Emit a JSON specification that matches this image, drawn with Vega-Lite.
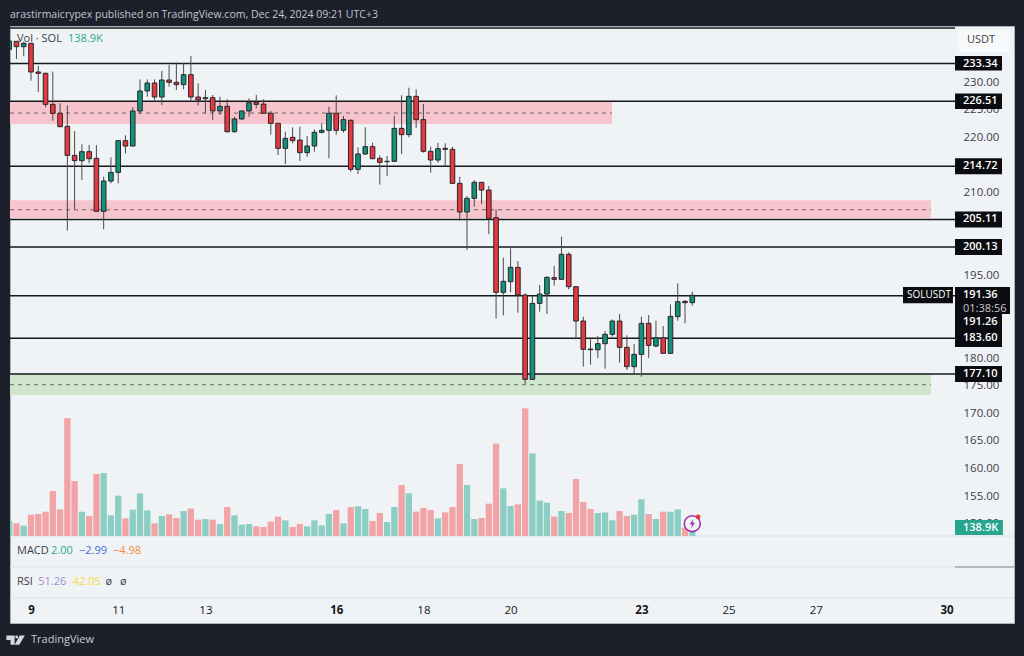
{"$schema":"https://vega.github.io/schema/vega-lite/v6.json","width":1004,"height":597,"autosize":{"type":"none"},"padding":{"left":10,"top":26,"right":10,"bottom":33},"background":"#1c202b","view":{"fill":"#f0f3f5","stroke":"#aeb2b8"},
"config":{"font":"Open Sans"},
"title":{"text":"arastirmaicrypex published on TradingView.com, Dec 24, 2024 09:21 UTC+3","anchor":"start","frame":"group","offset":6,"color":"#c3c6cd","fontSize":10.5,"fontWeight":"normal"},
"datasets":{
"candles":[
{"t":"2024-12-08T12:00:00Z","o":235.92,"h":237.5,"l":235.8,"c":237.43,"v":231},
{"t":"2024-12-08T16:00:00Z","o":237.37,"h":237.4,"l":234.17,"c":236.4,"v":195},
{"t":"2024-12-08T20:00:00Z","o":236.4,"h":237.3,"l":234.7,"c":237.0,"v":159},
{"t":"2024-12-09T00:00:00Z","o":237.0,"h":237.0,"l":230.24,"c":231.81,"v":328},
{"t":"2024-12-09T04:00:00Z","o":231.81,"h":232.9,"l":228.19,"c":231.57,"v":339},
{"t":"2024-12-09T08:00:00Z","o":231.57,"h":231.69,"l":225.41,"c":225.95,"v":374},
{"t":"2024-12-09T12:00:00Z","o":225.95,"h":231.87,"l":222.99,"c":224.32,"v":693},
{"t":"2024-12-09T16:00:00Z","o":224.32,"h":226.13,"l":221.79,"c":221.91,"v":410},
{"t":"2024-12-09T20:00:00Z","o":221.97,"h":225.77,"l":203.07,"c":216.71,"v":1816},
{"t":"2024-12-10T00:00:00Z","o":216.71,"h":221.12,"l":206.93,"c":215.75,"v":846},
{"t":"2024-12-10T04:00:00Z","o":215.75,"h":218.71,"l":212.24,"c":217.38,"v":374},
{"t":"2024-12-10T08:00:00Z","o":217.38,"h":218.58,"l":215.26,"c":216.11,"v":308},
{"t":"2024-12-10T12:00:00Z","o":216.17,"h":218.58,"l":206.45,"c":206.57,"v":954},
{"t":"2024-12-10T16:00:00Z","o":206.57,"h":212.85,"l":203.31,"c":212.06,"v":970},
{"t":"2024-12-10T20:00:00Z","o":212.06,"h":216.35,"l":211.64,"c":213.63,"v":318},
{"t":"2024-12-11T00:00:00Z","o":213.63,"h":219.37,"l":211.64,"c":219.37,"v":621},
{"t":"2024-12-11T04:00:00Z","o":219.37,"h":220.34,"l":217.07,"c":218.4,"v":272},
{"t":"2024-12-11T08:00:00Z","o":218.4,"h":225.41,"l":218.4,"c":224.75,"v":405},
{"t":"2024-12-11T12:00:00Z","o":224.75,"h":230.48,"l":224.2,"c":228.37,"v":657},
{"t":"2024-12-11T16:00:00Z","o":228.37,"h":230.48,"l":227.34,"c":229.82,"v":395},
{"t":"2024-12-11T20:00:00Z","o":229.82,"h":230.48,"l":226.74,"c":227.28,"v":195},
{"t":"2024-12-12T00:00:00Z","o":227.28,"h":231.99,"l":225.83,"c":230.36,"v":308},
{"t":"2024-12-12T04:00:00Z","o":230.36,"h":233.08,"l":229.15,"c":229.94,"v":333},
{"t":"2024-12-12T08:00:00Z","o":229.94,"h":233.56,"l":228.55,"c":229.52,"v":277},
{"t":"2024-12-12T12:00:00Z","o":229.52,"h":233.38,"l":228.67,"c":231.33,"v":385},
{"t":"2024-12-12T16:00:00Z","o":231.33,"h":234.71,"l":226.62,"c":227.28,"v":421},
{"t":"2024-12-12T20:00:00Z","o":227.28,"h":229.76,"l":225.77,"c":226.74,"v":251},
{"t":"2024-12-13T00:00:00Z","o":226.98,"h":228.55,"l":224.32,"c":227.16,"v":262},
{"t":"2024-12-13T04:00:00Z","o":227.16,"h":227.64,"l":223.11,"c":224.75,"v":251},
{"t":"2024-12-13T08:00:00Z","o":224.75,"h":227.34,"l":224.02,"c":225.59,"v":185},
{"t":"2024-12-13T12:00:00Z","o":225.59,"h":226.86,"l":220.82,"c":221.0,"v":446},
{"t":"2024-12-13T16:00:00Z","o":221.0,"h":223.72,"l":220.82,"c":223.3,"v":318},
{"t":"2024-12-13T20:00:00Z","o":223.3,"h":224.8,"l":223.2,"c":224.75,"v":174},
{"t":"2024-12-14T00:00:00Z","o":224.75,"h":227.04,"l":223.72,"c":226.25,"v":185},
{"t":"2024-12-14T04:00:00Z","o":226.32,"h":227.65,"l":225.23,"c":225.95,"v":149},
{"t":"2024-12-14T08:00:00Z","o":226.0,"h":226.86,"l":224.33,"c":224.33,"v":139},
{"t":"2024-12-14T12:00:00Z","o":224.33,"h":224.75,"l":220.46,"c":222.51,"v":221},
{"t":"2024-12-14T16:00:00Z","o":222.51,"h":222.6,"l":216.77,"c":217.98,"v":298},
{"t":"2024-12-14T20:00:00Z","o":217.98,"h":221.0,"l":215.15,"c":219.79,"v":241},
{"t":"2024-12-15T00:00:00Z","o":219.97,"h":221.79,"l":218.89,"c":219.37,"v":139},
{"t":"2024-12-15T04:00:00Z","o":219.49,"h":221.91,"l":215.69,"c":217.2,"v":185},
{"t":"2024-12-15T08:00:00Z","o":217.2,"h":220.22,"l":216.47,"c":218.4,"v":149},
{"t":"2024-12-15T12:00:00Z","o":218.4,"h":221.43,"l":217.38,"c":220.88,"v":241},
{"t":"2024-12-15T16:00:00Z","o":220.88,"h":222.51,"l":220.7,"c":221.25,"v":164},
{"t":"2024-12-15T20:00:00Z","o":221.25,"h":225.53,"l":216.17,"c":224.33,"v":339},
{"t":"2024-12-16T00:00:00Z","o":224.33,"h":227.59,"l":220.46,"c":221.25,"v":400},
{"t":"2024-12-16T04:00:00Z","o":221.25,"h":223.84,"l":220.82,"c":223.18,"v":195},
{"t":"2024-12-16T08:00:00Z","o":223.06,"h":223.24,"l":213.75,"c":214.18,"v":446},
{"t":"2024-12-16T12:00:00Z","o":214.18,"h":218.17,"l":213.33,"c":216.96,"v":457},
{"t":"2024-12-16T16:00:00Z","o":216.96,"h":221.79,"l":216.77,"c":218.29,"v":416},
{"t":"2024-12-16T20:00:00Z","o":218.29,"h":219.0,"l":215.99,"c":216.11,"v":231},
{"t":"2024-12-17T00:00:00Z","o":216.17,"h":216.72,"l":211.4,"c":215.45,"v":354},
{"t":"2024-12-17T04:00:00Z","o":215.57,"h":216.6,"l":212.97,"c":215.63,"v":215},
{"t":"2024-12-17T08:00:00Z","o":215.63,"h":223.9,"l":215.5,"c":221.6,"v":446},
{"t":"2024-12-17T12:00:00Z","o":221.6,"h":227.59,"l":216.96,"c":220.46,"v":785},
{"t":"2024-12-17T16:00:00Z","o":220.46,"h":228.97,"l":219.97,"c":227.4,"v":657},
{"t":"2024-12-17T20:00:00Z","o":227.4,"h":228.67,"l":221.67,"c":223.18,"v":374},
{"t":"2024-12-18T00:00:00Z","o":223.18,"h":226.01,"l":217.2,"c":217.44,"v":431},
{"t":"2024-12-18T04:00:00Z","o":217.44,"h":218.29,"l":213.57,"c":215.87,"v":400},
{"t":"2024-12-18T08:00:00Z","o":215.87,"h":219.0,"l":215.39,"c":217.92,"v":272},
{"t":"2024-12-18T12:00:00Z","o":217.98,"h":218.89,"l":214.78,"c":217.8,"v":364},
{"t":"2024-12-18T16:00:00Z","o":217.8,"h":218.29,"l":211.64,"c":211.64,"v":446},
{"t":"2024-12-18T20:00:00Z","o":211.64,"h":212.85,"l":204.88,"c":206.45,"v":1108},
{"t":"2024-12-19T00:00:00Z","o":206.45,"h":209.35,"l":199.56,"c":208.92,"v":785},
{"t":"2024-12-19T04:00:00Z","o":208.92,"h":212.25,"l":207.41,"c":211.82,"v":262},
{"t":"2024-12-19T08:00:00Z","o":211.82,"h":211.9,"l":207.9,"c":210.43,"v":277},
{"t":"2024-12-19T12:00:00Z","o":210.43,"h":211.16,"l":202.46,"c":205.3,"v":498},
{"t":"2024-12-19T16:00:00Z","o":205.42,"h":206.93,"l":187.18,"c":191.9,"v":1421},
{"t":"2024-12-19T20:00:00Z","o":191.9,"h":198.18,"l":187.73,"c":193.89,"v":734},
{"t":"2024-12-20T00:00:00Z","o":193.83,"h":199.87,"l":191.9,"c":196.42,"v":462},
{"t":"2024-12-20T04:00:00Z","o":196.42,"h":197.57,"l":188.21,"c":191.41,"v":487},
{"t":"2024-12-20T08:00:00Z","o":191.41,"h":191.71,"l":175.29,"c":176.13,"v":1965},
{"t":"2024-12-20T12:00:00Z","o":176.13,"h":191.23,"l":176.01,"c":189.9,"v":1272},
{"t":"2024-12-20T16:00:00Z","o":189.9,"h":193.22,"l":188.39,"c":191.59,"v":544},
{"t":"2024-12-20T20:00:00Z","o":191.59,"h":194.85,"l":187.97,"c":194.61,"v":513},
{"t":"2024-12-21T00:00:00Z","o":194.55,"h":196.67,"l":193.1,"c":194.25,"v":298},
{"t":"2024-12-21T04:00:00Z","o":194.25,"h":201.98,"l":194.25,"c":198.78,"v":385},
{"t":"2024-12-21T08:00:00Z","o":198.78,"h":199.14,"l":192.44,"c":192.92,"v":354},
{"t":"2024-12-21T12:00:00Z","o":192.92,"h":192.92,"l":183.38,"c":186.7,"v":877},
{"t":"2024-12-21T16:00:00Z","o":186.7,"h":187.49,"l":178.43,"c":181.57,"v":523},
{"t":"2024-12-21T20:00:00Z","o":181.63,"h":183.38,"l":178.79,"c":181.5,"v":416},
{"t":"2024-12-22T00:00:00Z","o":181.5,"h":183.98,"l":180.0,"c":182.6,"v":354},
{"t":"2024-12-22T04:00:00Z","o":182.6,"h":184.89,"l":178.07,"c":184.29,"v":364},
{"t":"2024-12-22T08:00:00Z","o":184.29,"h":187.0,"l":183.87,"c":186.7,"v":241},
{"t":"2024-12-22T12:00:00Z","o":186.7,"h":187.97,"l":179.15,"c":181.93,"v":385},
{"t":"2024-12-22T16:00:00Z","o":181.93,"h":184.1,"l":177.82,"c":178.43,"v":308},
{"t":"2024-12-22T20:00:00Z","o":178.43,"h":182.53,"l":176.98,"c":180.66,"v":328},
{"t":"2024-12-23T00:00:00Z","o":180.66,"h":187.49,"l":176.62,"c":186.28,"v":564},
{"t":"2024-12-23T04:00:00Z","o":186.28,"h":187.79,"l":180.0,"c":182.29,"v":339},
{"t":"2024-12-23T08:00:00Z","o":182.17,"h":186.76,"l":181.93,"c":183.68,"v":262},
{"t":"2024-12-23T12:00:00Z","o":183.68,"h":185.8,"l":180.84,"c":180.84,"v":374},
{"t":"2024-12-23T16:00:00Z","o":180.84,"h":189.72,"l":180.84,"c":187.55,"v":374},
{"t":"2024-12-23T20:00:00Z","o":187.49,"h":193.53,"l":186.76,"c":190.2,"v":410},
{"t":"2024-12-24T00:00:00Z","o":190.26,"h":190.5,"l":186.28,"c":190.02,"v":128},
{"t":"2024-12-24T04:00:00Z","o":190.02,"h":192.02,"l":189.48,"c":191.36,"v":139}
],
"zones":[
{"t":"2024-12-08T12:26:00Z","t2":"2024-12-22T07:48:00Z","hi":226.43,"lo":222.4,"mid":224.38,"kind":"supply"},
{"t":"2024-12-08T12:26:00Z","t2":"2024-12-29T15:23:00Z","hi":208.6,"lo":205.36,"mid":206.85,"kind":"supply"},
{"t":"2024-12-08T12:26:00Z","t2":"2024-12-29T15:23:00Z","hi":177.1,"lo":173.3,"mid":175.16,"kind":"demand"}
],
"levels":[
{"t":"2024-12-08T12:26:00Z","t2":"2024-12-30T04:38:00Z","p":239.78},
{"t":"2024-12-08T12:26:00Z","t2":"2024-12-30T04:38:00Z","p":233.34},
{"t":"2024-12-08T12:26:00Z","t2":"2024-12-30T04:38:00Z","p":226.51},
{"t":"2024-12-08T12:26:00Z","t2":"2024-12-30T04:38:00Z","p":214.72},
{"t":"2024-12-08T12:26:00Z","t2":"2024-12-30T04:38:00Z","p":205.11},
{"t":"2024-12-08T12:26:00Z","t2":"2024-12-30T04:38:00Z","p":200.13},
{"t":"2024-12-08T12:26:00Z","t2":"2024-12-30T04:38:00Z","p":191.3},
{"t":"2024-12-08T12:26:00Z","t2":"2024-12-30T04:38:00Z","p":183.6},
{"t":"2024-12-08T12:26:00Z","t2":"2024-12-30T04:38:00Z","p":177.1}
],
"dividers":[
{"t":"2024-12-08T12:26:00Z","t2":"2024-12-31T13:06:00Z","p":147.75},
{"t":"2024-12-08T12:26:00Z","t2":"2024-12-31T13:06:00Z","p":142.14},
{"t":"2024-12-08T12:26:00Z","t2":"2024-12-31T13:06:00Z","p":136.52}
],
"scaleEdge":[{"t":"2024-12-30T04:38:00Z","t2":"2024-12-31T13:06:00Z","p":142.14}],
"tags":[
{"label":"233.34","t":"2024-12-30T04:38:00Z","t2":"2024-12-31T06:30:00Z","p":233.34,"hi":234.7,"lo":232.1},
{"label":"226.51","t":"2024-12-30T04:38:00Z","t2":"2024-12-31T06:30:00Z","p":226.51,"hi":227.9,"lo":225.1},
{"label":"214.72","t":"2024-12-30T04:38:00Z","t2":"2024-12-31T06:30:00Z","p":214.72,"hi":216.17,"lo":213.27},
{"label":"205.11","t":"2024-12-30T04:38:00Z","t2":"2024-12-31T06:30:00Z","p":205.11,"hi":206.56,"lo":203.66},
{"label":"200.13","t":"2024-12-30T04:38:00Z","t2":"2024-12-31T06:30:00Z","p":200.13,"hi":201.58,"lo":198.68},
{"label":"191.36","t":"2024-12-30T04:38:00Z","t2":"2024-12-31T10:54:00Z","p":191.36,"hi":192.86,"lo":187.97},
{"label":"191.26","t":"2024-12-30T04:38:00Z","t2":"2024-12-31T06:30:00Z","p":186.52,"hi":187.97,"lo":185.07},
{"label":"183.60","t":"2024-12-30T04:38:00Z","t2":"2024-12-31T06:30:00Z","p":183.6,"hi":185.07,"lo":182.0},
{"label":"177.10","t":"2024-12-30T04:38:00Z","t2":"2024-12-31T06:30:00Z","p":177.1,"hi":178.55,"lo":175.65}
],
"symbol":[{"label":"SOLUSDT","t":"2024-12-29T00:00:00Z","t2":"2024-12-30T03:30:00Z","p":191.36,"hi":192.86,"lo":189.9}],
"notes":[
{"label":"Vol · SOL","t":"2024-12-08T16:18:00Z","p":237.79,"series":"text"},
{"label":"138.9K","t":"2024-12-09T20:23:00Z","p":237.79,"series":"volume"},
{"label":"MACD","t":"2024-12-08T16:18:00Z","p":145.04,"series":"text"},
{"label":"2.00","t":"2024-12-09T11:00:00Z","p":145.04,"series":"volume"},
{"label":"−2.99","t":"2024-12-10T02:26:00Z","p":145.04,"series":"signal"},
{"label":"−4.98","t":"2024-12-10T21:08:00Z","p":145.04,"series":"hist"},
{"label":"RSI","t":"2024-12-08T16:18:00Z","p":139.42,"series":"text"},
{"label":"51.26","t":"2024-12-09T04:00:00Z","p":139.42,"series":"rsi"},
{"label":"42.05","t":"2024-12-09T23:00:00Z","p":139.42,"series":"rsima"},
{"label":"ø","t":"2024-12-10T17:00:00Z","p":139.42,"series":"text"},
{"label":"ø","t":"2024-12-11T01:00:00Z","p":139.42,"series":"text"},
{"label":"01:38:56","t":"2024-12-30T09:02:00Z","p":188.93,"series":"timer"},
{"label":"TradingView","t":"2024-12-09T00:00:00Z","p":128.9,"series":"brand"}
],
"unit":[{"label":"USDT","t":"2024-12-30T06:14:00Z","t2":"2024-12-31T10:54:00Z","hi":239.42,"lo":235.43,"p":237.6}],
"logo":[{"t":"2024-12-08T15:30:00Z","p":128.9}]
},
"encoding":{"x":{"field":"t","type":"temporal","scale":{"type":"utc","padding":0,"domain":[{"year":2024,"month":12,"date":8,"hours":12,"minutes":26,"utc":true},{"year":2024,"month":12,"date":31,"hours":13,"minutes":6,"utc":true}]},
"axis":{"title":null,"grid":false,"domain":false,"ticks":false,"offset":-19,"labelPadding":0,"labelFontSize":11.5,"labelColor":"#131722","labelFlush":false,"labelOverlap":false,"format":"%-d","labelFontWeight":{"condition":{"test":"datum.label=='9'||datum.label=='16'||datum.label=='23'||datum.label=='30'","value":"bold"},"value":"normal"},
"values":[{"year":2024,"month":12,"date":9,"utc":true},{"year":2024,"month":12,"date":11,"utc":true},{"year":2024,"month":12,"date":13,"utc":true},{"year":2024,"month":12,"date":16,"utc":true},{"year":2024,"month":12,"date":18,"utc":true},{"year":2024,"month":12,"date":20,"utc":true},{"year":2024,"month":12,"date":23,"utc":true},{"year":2024,"month":12,"date":25,"utc":true},{"year":2024,"month":12,"date":27,"utc":true},{"year":2024,"month":12,"date":30,"utc":true}]}}},
"layer":[
{"encoding":{"y":{"field":"p","type":"quantitative","scale":{"domain":[131.996,240.145],"nice":false,"zero":false},"axis":{"title":null,"orient":"right","grid":false,"domain":false,"ticks":false,"offset":-51,"labelPadding":0,"labelFontSize":11.5,"labelColor":"#3c4048","labelOverlap":false,"format":".2f","values":[230,225,220,215,210,205,200,195,190,185,180,175,170,165,160,155,150]}}},
"layer":[
{"data":{"name":"dividers"},"mark":{"type":"rule","color":"#dfe2e6","strokeWidth":1},"encoding":{"x2":{"field":"t2"},"y":{"field":"p"}}},
{"data":{"name":"scaleEdge"},"mark":{"type":"rule","color":"#84878d","strokeWidth":1.2},"encoding":{"x2":{"field":"t2"},"y":{"field":"p"}}},
{"data":{"name":"zones"},"mark":{"type":"rect"},"encoding":{"x2":{"field":"t2"},"y":{"field":"hi"},"y2":{"field":"lo"},"fill":{"condition":{"test":"datum.kind=='demand'","value":"#cfe5cd"},"value":"#f6c4cd"}}},
{"data":{"name":"zones"},"mark":{"type":"rule","color":"#6e6466","strokeWidth":1,"strokeDash":[4,4]},"encoding":{"x2":{"field":"t2"},"y":{"field":"mid"}}},
{"data":{"name":"levels"},"mark":{"type":"rule","color":"#16181d","strokeWidth":1.5},"encoding":{"x2":{"field":"t2"},"y":{"field":"p"}}},
{"data":{"name":"candles"},"mark":{"type":"rule","color":"#4a4a4a","strokeWidth":1,"clip":true},"encoding":{"y":{"field":"h"},"y2":{"field":"l"}}},
{"data":{"name":"candles"},"mark":{"type":"bar","width":4.6,"stroke":"#26262a","strokeWidth":1,"clip":true},"encoding":{"y":{"field":"o"},"y2":{"field":"c"},"fill":{"condition":{"test":"datum.c<datum.o","value":"#e5383f"},"value":"#13917a"}}},
{"data":{"name":"tags"},"mark":{"type":"rect","fill":"#0b0c0f"},"encoding":{"x2":{"field":"t2"},"y":{"field":"hi"},"y2":{"field":"lo"}}},
{"data":{"name":"tags"},"mark":{"type":"text","align":"left","baseline":"middle","dx":8,"fontSize":11,"fontWeight":600,"color":"#ffffff"},"encoding":{"y":{"field":"p"},"text":{"field":"label"}}},
{"data":{"name":"symbol"},"mark":{"type":"rect","fill":"#0b0c0f"},"encoding":{"x2":{"field":"t2"},"y":{"field":"hi"},"y2":{"field":"lo"}}},
{"data":{"name":"symbol"},"mark":{"type":"text","align":"left","baseline":"middle","dx":4,"fontSize":10,"fontWeight":"normal","color":"#ffffff"},"encoding":{"y":{"field":"p"},"text":{"field":"label"}}},
{"data":{"name":"unit"},"mark":{"type":"rect","fill":"#f8f9fb","cornerRadius":3},"encoding":{"x2":{"field":"t2"},"y":{"field":"hi"},"y2":{"field":"lo"}}},
{"data":{"name":"unit"},"mark":{"type":"text","align":"left","baseline":"middle","dx":9,"fontSize":11,"color":"#3c4048"},"encoding":{"y":{"field":"p"},"text":{"field":"label"}}},
{"data":{"name":"logo"},"mark":{"type":"point","shape":"M-1,-0.5 L-0.1,-0.5 L-0.1,0.5 L-0.55,0.5 L-0.55,0 L-1,0 Z M0.45,-0.5 L1,-0.5 L0.4,0.5 L-0.1,0.5 Z M0.12,-0.5 A0.16,0.16 0 1 1 0.12,-0.18 A0.16,0.16 0 1 1 0.12,-0.5 Z","size":340,"filled":true,"fill":"#d6d8dc","opacity":1},"encoding":{"y":{"field":"p"}}},
{"data":{"name":"notes"},"mark":{"type":"text","align":"left","baseline":"middle","fontSize":11},"encoding":{"y":{"field":"p"},"text":{"field":"label"},"fill":{"field":"series","type":"nominal","legend":null,"scale":{"domain":["text","volume","signal","hist","rsi","rsima","timer","brand"],"range":["#3c4048","#2aa892","#3f6fd8","#f08a3c","#9c8ed0","#f5d948","#c8cacd","#c9cbd0"]}}}}
]},
{"encoding":{"y":{"field":"v","type":"quantitative","scale":{"domain":[-1340,7854],"nice":false,"zero":false},"axis":null}},
"layer":[
{"data":{"name":"candles"},"mark":{"type":"bar","width":6.3,"clip":true},"encoding":{"fill":{"condition":{"test":"datum.c<datum.o","value":"#f2a3a6"},"value":"#8ccdc4"}}},
{"data":{"values":[{"label":"138.9K","t":"2024-12-30T04:38:00Z","t2":"2024-12-31T07:00:00Z","v":123,"hi":245,"lo":15}]},"layer":[
{"mark":{"type":"rect","fill":"#26a68f"},"encoding":{"x2":{"field":"t2"},"y":{"field":"hi"},"y2":{"field":"lo"}}},
{"mark":{"type":"text","align":"left","baseline":"middle","dx":8,"fontSize":11,"fontWeight":600,"color":"#ffffff"},"encoding":{"y":{"field":"v"},"text":{"field":"label"}}}
]},
{"data":{"values":[{"t":"2024-12-24T04:00:00Z","v":190,"dot":"2024-12-24T07:12:00Z","vd":293}]},"layer":[
{"mark":{"type":"point","shape":"circle","size":254,"filled":true,"fill":"#f0f3f5","stroke":"#9c2fb0","strokeWidth":1.6,"opacity":1},"encoding":{"y":{"field":"v"}}},
{"mark":{"type":"point","shape":"M0.25,-1 L-0.55,0.15 L-0.05,0.15 L-0.25,1 L0.55,-0.2 L0.05,-0.2 Z","size":90,"filled":true,"fill":"#9c2fb0","opacity":1},"encoding":{"y":{"field":"v"}}},
{"mark":{"type":"point","shape":"circle","size":22,"filled":true,"fill":"#e53935","opacity":1},"encoding":{"x":{"field":"dot","type":"temporal"},"y":{"field":"vd"}}}
]}
]}
],
"resolve":{"scale":{"y":"independent"}}}
